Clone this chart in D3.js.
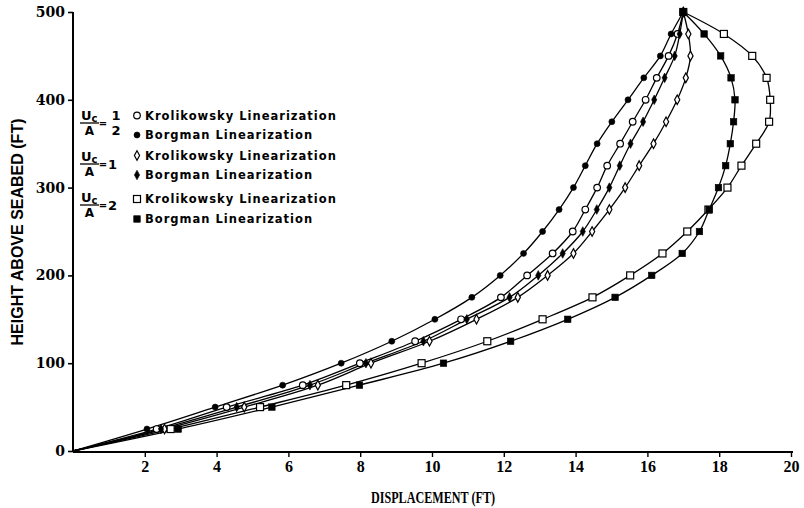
<!DOCTYPE html>
<html><head><meta charset="utf-8">
<script src="https://cdn.jsdelivr.net/npm/d3@7"></script>
<style>
html,body{margin:0;padding:0;background:#fff;}
svg{display:block;}
</style>
</head><body>
<svg id="chart" width="804" height="508"></svg>
<script>
// ---- data ----
const heights = [25,50,75,100,125,150,175,200,225,250,275,300,325,350,375,400,425,450,475,500];
const borgmanHalf = [2.06,3.96,5.84,7.47,8.88,10.08,11.11,11.90,12.55,13.08,13.54,13.94,14.27,14.60,15.01,15.46,15.90,16.36,16.66,17.00];
const krolHalf    = [2.33,4.28,6.40,7.99,9.53,10.81,11.92,12.65,13.36,13.92,14.27,14.60,14.88,15.24,15.59,15.95,16.26,16.59,16.84,17.00];
const borgmanOne  = [2.45,4.56,6.60,8.16,9.76,10.97,12.16,12.96,13.64,14.20,14.59,14.94,15.23,15.53,15.88,16.19,16.48,16.76,16.90,17.00];
const krolOne     = [2.55,4.77,6.82,8.30,9.93,11.24,12.39,13.22,13.94,14.46,14.94,15.38,15.77,16.17,16.52,16.83,17.07,17.20,17.14,17.00];
const krolTwo     = [2.72,5.21,7.61,9.71,11.54,13.08,14.47,15.52,16.42,17.11,17.70,18.23,18.62,19.03,19.39,19.42,19.32,18.92,18.13,17.00];
const borgmanTwo  = [2.93,5.54,7.98,10.32,12.19,13.78,15.10,16.12,16.97,17.45,17.72,17.98,18.18,18.31,18.40,18.44,18.33,18.04,17.58,17.00];
const xTicks = [2,4,6,8,10,12,14,16,18,20];
const yTicks = [0,100,200,300,400,500];
const xTitle = "DISPLACEMENT (FT)";
const yTitle = "HEIGHT ABOVE SEABED (FT)";
const legendNames = ["Krolikowsky Linearization","Borgman Linearization"];
const ratioLabels = [["1","2"],["1"],["2"]];

const series = [
  {name: legendNames[0], vals: krolHalf,    marker: "circle",  filled: false},
  {name: legendNames[1], vals: borgmanHalf, marker: "circle",  filled: true},
  {name: legendNames[0], vals: krolOne,     marker: "diamond", filled: false},
  {name: legendNames[1], vals: borgmanOne,  marker: "diamond", filled: true},
  {name: legendNames[0], vals: krolTwo,     marker: "square",  filled: false},
  {name: legendNames[1], vals: borgmanTwo,  marker: "square",  filled: true}
];

const svg = d3.select("#chart");
const x = d3.scaleLinear().domain([0,20]).range([73,791]);
const y = d3.scaleLinear().domain([0,500]).range([451,12]);

// ---- curves ----
const line = d3.line().x(d=>x(d[0])).y(d=>y(d[1])).curve(d3.curveCatmullRom.alpha(0.5));
series.forEach(s=>{
  const pts = [[0,0]].concat(heights.map((h,i)=>[s.vals[i],h]));
  svg.append("path").attr("d", line(pts)).attr("fill","none")
     .attr("stroke","#000").attr("stroke-width",1.3);
});

function marker(g, type, filled, cx, cy){
  const fill = filled ? "#000" : "#fff";
  let el;
  if(type==="circle"){
    el = g.append("circle").attr("cx",cx).attr("cy",cy).attr("r", filled?3:3.3);
  } else if(type==="diamond"){
    const w = 2.6, h = 4.8;
    el = g.append("path").attr("d",`M${cx},${cy-h}L${cx+w},${cy}L${cx},${cy+h}L${cx-w},${cy}Z`);
  } else {
    const s = filled?6.5:7;
    el = g.append("rect").attr("x",cx-s/2).attr("y",cy-s/2).attr("width",s).attr("height",s);
  }
  el.attr("fill",fill).attr("stroke","#000").attr("stroke-width", filled?0.6:1.2);
}

const mg = svg.append("g");
series.forEach(s=>{
  heights.forEach((h,i)=> marker(mg, s.marker, s.filled, x(s.vals[i]), y(h)));
});

// ---- axes ----
const serif = "'DejaVu Serif', serif";
const yAxis = svg.append("g").attr("transform","translate(73,0)")
  .call(d3.axisLeft(y).tickValues(yTicks).tickSize(5).tickPadding(3).tickFormat(d3.format("d")));
yAxis.select(".domain").attr("stroke-width",2).attr("d","M0,12V452");
yAxis.selectAll(".tick line").attr("stroke-width",1.6);
yAxis.selectAll("text").attr("font-family",serif).attr("font-weight","bold").attr("font-size",14).attr("fill","#000");

const xAxis = svg.append("g").attr("transform","translate(0,452)")
  .call(d3.axisBottom(x).tickValues(xTicks).tickSize(5).tickPadding(4).tickFormat(d3.format("d")));
xAxis.select(".domain").attr("stroke-width",2).attr("d","M73,0H793");
xAxis.selectAll(".tick line").attr("stroke-width",1.4);
xAxis.selectAll("text").attr("font-family","'Liberation Serif', serif").attr("font-weight","bold").attr("font-size",16).attr("fill","#000");

svg.append("text").attr("x",433).attr("y",503).attr("text-anchor","middle")
  .attr("font-family","'Liberation Serif', serif").attr("font-weight","bold").attr("font-size",17)
  .attr("textLength",124).attr("lengthAdjust","spacingAndGlyphs").text(xTitle);
svg.append("text").attr("transform","translate(23,232) rotate(-90)").attr("text-anchor","middle")
  .attr("font-family","'Liberation Sans', sans-serif").attr("font-weight","bold").attr("font-size",16)
  .text(yTitle);

// ---- legend ----
const lg = svg.append("g");
const rowY = [115.5,135,155.5,175,199,219];
const fracY = [123,164,205];
const lfont = "'DejaVu Sans', sans-serif";
series.forEach((s,i)=>{
  marker(lg, s.marker, s.filled, 137, rowY[i]);
  lg.append("text").attr("x",145).attr("y",rowY[i]+4).attr("font-family",lfont)
    .attr("font-weight","bold").attr("font-size",11.5).attr("letter-spacing",1.0).text(s.name);
});
ratioLabels.forEach((r,k)=>{
  const fy = fracY[k];
  const t = lg.append("text").attr("x",81).attr("y",fy-3).attr("font-family",lfont)
    .attr("font-weight","bold").attr("font-size",13);
  t.append("tspan").text("U");
  t.append("tspan").attr("font-size",10).attr("dy",2).text("c");
  lg.append("line").attr("x1",80).attr("x2",99).attr("y1",fy).attr("y2",fy).attr("stroke","#000").attr("stroke-width",1.3);
  lg.append("text").attr("x",89.5).attr("y",fy+12).attr("text-anchor","middle").attr("font-family",lfont)
    .attr("font-weight","bold").attr("font-size",12).text("A");
  lg.append("text").attr("x",103).attr("y",fy+4).attr("text-anchor","middle").attr("font-family",lfont)
    .attr("font-weight","bold").attr("font-size",10).text("=");
  if(r.length===2){
    lg.append("text").attr("x",116).attr("y",fy-3).attr("text-anchor","middle").attr("font-family",lfont)
      .attr("font-weight","bold").attr("font-size",13).text(r[0]);
    lg.append("text").attr("x",116).attr("y",fy+12).attr("text-anchor","middle").attr("font-family",lfont)
      .attr("font-weight","bold").attr("font-size",13).text(r[1]);
  } else {
    lg.append("text").attr("x",108).attr("y",fy+5).attr("font-family",lfont)
      .attr("font-weight","bold").attr("font-size",13).text(r[0]);
  }
});
</script>
</body></html>
